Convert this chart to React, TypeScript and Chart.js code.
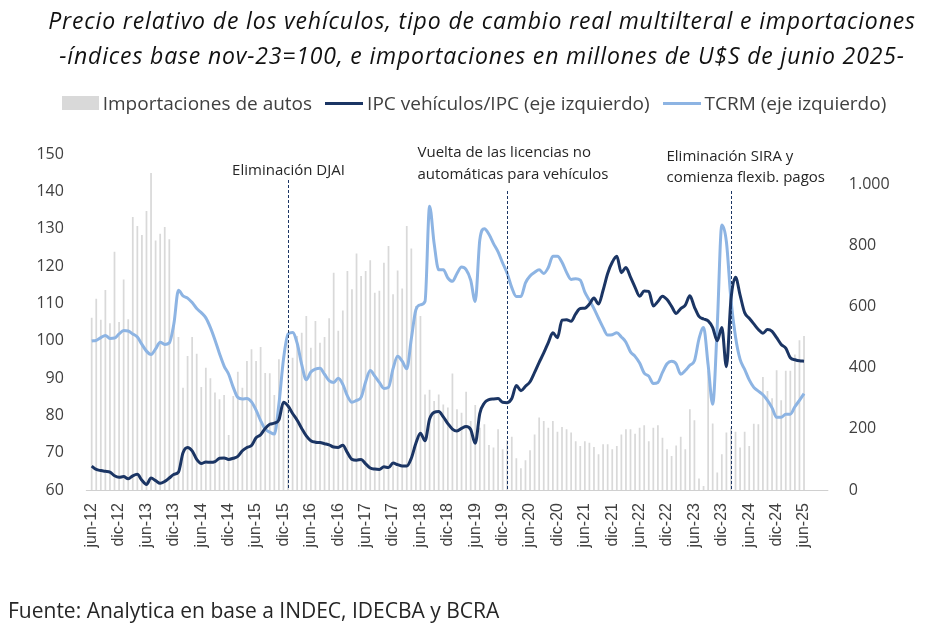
import React, { useEffect, useRef } from 'react';
import { Chart, registerables } from 'chart.js';

Chart.register(...registerables);

// months from jun-12 to jun-25
const MONTHS = ['ene', 'feb', 'mar', 'abr', 'may', 'jun', 'jul', 'ago', 'sep', 'oct', 'nov', 'dic'];
const START_MONTH = 5;
const START_YEAR = 12;

// Importaciones de autos, millones de U$S de junio 2025 (eje derecho)
const IMPORTS = [
  564, 626, 557, 655, 546, 780, 550, 689, 559, 894, 864, 835,
  913, 1038, 817, 839, 861, 821, 546, 501, 335, 439, 501, 446,
  337, 400, 366, 319, 297, 311, 180, 308, 387, 335, 422, 461,
  422, 468, 383, 382, 311, 428, 291, 488, 433, 504, 515, 570,
  466, 553, 482, 501, 562, 711, 521, 588, 717, 657, 774, 701,
  717, 752, 646, 652, 744, 799, 641, 719, 660, 864, 791, 602,
  570, 313, 328, 291, 313, 280, 270, 381, 264, 253, 322, 226,
  278, 204, 215, 147, 139, 199, 133, 163, 174, 104, 71, 97,
  130, 182, 237, 226, 204, 226, 191, 206, 199, 188, 160, 144,
  160, 155, 141, 117, 150, 150, 133, 144, 182, 199, 199, 184,
  204, 212, 160, 204, 212, 171, 133, 111, 146, 174, 133, 264,
  228, 38, 13, 390, 218, 57, 117, 188, 204, 191, 139, 191,
  144, 217, 215, 370, 324, 300, 392, 294, 390, 390, 444, 490,
  504,
];

// IPC vehiculos / IPC, nov-23=100 (eje izquierdo)
const IPC_VEH = [
  66.4, 65.5, 65.2, 65.0, 64.8, 63.8, 63.4, 63.6, 63.0, 63.8, 64.2, 62.6,
  61.5, 63.2, 62.5, 61.8, 62.3, 63.2, 64.2, 64.8, 70.0, 71.4, 70.5, 68.2,
  67.1, 67.5, 67.4, 67.6, 68.5, 68.6, 68.2, 68.5, 69.0, 70.5, 71.4, 71.9,
  74.0, 74.8, 76.5, 77.6, 77.9, 78.8, 83.5, 82.5, 80.5, 78.7, 76.5, 74.5,
  73.2, 72.8, 72.7, 72.4, 72.1, 71.5, 71.4, 72.0, 70.0, 68.2, 68.0, 68.2,
  67.0, 65.9, 65.6, 65.5, 66.2, 66.0, 67.2, 66.8, 66.4, 66.4, 68.5, 72.5,
  75.2, 73.2, 79.0, 80.8, 81.0, 79.6, 77.8, 76.3, 75.8, 76.5, 77.0, 76.2,
  72.5, 80.5, 83.3, 84.2, 84.4, 84.5, 83.5, 83.4, 84.5, 88.0, 86.6, 87.8,
  89.0, 91.5, 94.2, 96.7, 99.5, 102.1, 100.8, 105.5, 105.6, 105.2, 107.2, 108.6,
  108.7, 109.8, 111.4, 109.8, 113.5, 118.0, 121.0, 122.6, 118.2, 119.6, 117.0, 114.3,
  111.9, 113.3, 113.2, 109.3, 110.5, 111.9, 111.0, 109.2, 107.3, 108.6, 109.5, 112.0,
  109.0, 106.5, 105.8, 105.3, 103.5, 100.0, 103.5, 93.0, 111.0, 117.0, 112.2, 107.5,
  106.0, 104.5, 103.0, 102.0, 103.0, 102.5, 100.8, 99.0, 98.0, 95.4, 94.9, 94.6,
  94.5,
];

// TCRM, nov-23=100 (eje izquierdo)
const TCRM = [
  99.9, 100.1, 100.8, 101.4, 100.6, 100.7, 101.8, 102.7, 102.6, 101.8, 101.0, 99.0,
  97.2, 96.3, 97.8, 99.6, 99.0, 99.4, 104.5, 113.5, 112.0, 111.4, 110.2, 108.6,
  107.5, 106.1, 103.5, 100.2, 96.5, 93.2, 91.0, 87.5, 84.8, 84.4, 84.5, 83.6,
  81.4, 78.6, 76.3, 75.5, 75.0, 83.0, 95.0, 101.8, 102.2, 99.3, 93.6, 89.5,
  91.6, 92.4, 92.6, 91.0, 89.3, 88.8, 89.9, 88.3, 85.2, 83.5, 84.0, 84.8,
  89.0, 92.0, 90.5, 88.8, 87.2, 87.5, 92.5, 95.8, 94.5, 92.5, 100.5, 108.3,
  109.6, 110.5, 136.0, 126.0, 119.0, 119.0, 116.8, 115.9, 118.0, 119.7, 119.0, 116.2,
  110.5, 127.0, 130.0, 128.5, 126.0, 123.8, 120.8, 118.0, 114.2, 111.8, 111.8, 115.5,
  117.3, 118.3, 119.0, 118.0, 119.6, 122.6, 122.6, 121.0, 118.3, 116.4, 116.6, 116.2,
  113.0, 110.8, 108.6, 106.0, 103.5, 101.5, 101.6, 102.1, 101.0, 99.6, 97.0, 95.8,
  94.0, 91.3, 90.5, 88.5, 88.8, 91.5, 93.8, 94.5, 93.8, 91.0, 92.0, 93.4,
  94.6, 100.5, 103.5, 93.5, 83.0, 104.0, 131.0, 126.5, 111.0, 101.0, 95.0, 92.3,
  89.5, 87.5, 86.5, 85.5, 84.0, 82.0, 79.5, 79.5, 80.3, 80.3, 82.3, 84.0,
  85.8,
];

const LEFT_TICKS = [60, 70, 80, 90, 100, 110, 120, 130, 140, 150];
const RIGHT_TICKS = [0, 200, 400, 600, 800, 1000];

const EVENTS = [
  { month: 'ene-16', text: ['Eliminación DJAI'] },
  { month: 'ene-20', text: ['Vuelta de las licencias no', 'automáticas para vehículos'] },
  { month: 'feb-24', text: ['Eliminación SIRA y', 'comienza flexib. pagos'] },
];

// where each note sits relative to its dashed line
const EVENT_LAYOUT = [
  { lineTop: 180, dx: 0, align: 'center', ys: [171] },
  { lineTop: 191, dx: -90, align: 'left', ys: [153, 175] },
  { lineTop: 191, dx: -65, align: 'left', ys: [157, 178] },
];

const LABELS = IMPORTS.map((_, i) => {
  const m = START_MONTH + i;
  return `${MONTHS[m % 12]}-${START_YEAR + Math.floor(m / 12)}`;
});

const FONT = '"Open Sans", "Noto Sans", sans-serif';
const NAVY = '#1b3564';
const LIGHT = '#8db4e3';
const BAR = '#d9d9d9';

const fmt = (v: number) => String(v).replace(/\B(?=(\d{3})+(?!\d))/g, '.');

const overlayPlugin = {
  id: 'overlay',
  beforeDatasetsDraw(chart: any) {
    const { ctx, chartArea } = chart;
    ctx.save();
    ctx.strokeStyle = '#d0d0d0';
    ctx.lineWidth = 1;
    ctx.beginPath();
    ctx.moveTo(chartArea.left - 3.5, chartArea.bottom + 0.5);
    ctx.lineTo(chartArea.right + 22, chartArea.bottom + 0.5);
    ctx.stroke();
    ctx.restore();
  },
  afterDatasetsDraw(chart: any) {
    const { ctx, chartArea, scales } = chart;
    ctx.save();
    EVENTS.forEach((ev, k) => {
      const lay = EVENT_LAYOUT[k];
      const px = Math.round(scales.x.getPixelForValue(LABELS.indexOf(ev.month))) + 0.5;
      ctx.strokeStyle = NAVY;
      ctx.lineWidth = 1;
      ctx.setLineDash([3, 2]);
      ctx.beginPath();
      ctx.moveTo(px, lay.lineTop);
      ctx.lineTo(px, chartArea.bottom);
      ctx.stroke();
      ctx.setLineDash([]);
      ctx.fillStyle = '#262626';
      ctx.font = `15px ${FONT}`;
      ctx.textAlign = lay.align;
      ctx.textBaseline = 'middle';
      ev.text.forEach((t, j) => ctx.fillText(t, px + lay.dx, lay.ys[j]));
    });
    ctx.restore();
  },
};

const ImportsChart: React.FC = () => {
  const canvasRef = useRef<HTMLCanvasElement>(null);
  const chartInstance = useRef<Chart | null>(null);

  useEffect(() => {
    if (!canvasRef.current) return;
    if (chartInstance.current) chartInstance.current.destroy();

    chartInstance.current = new Chart(canvasRef.current, {
      type: 'bar',
      data: {
        labels: LABELS,
        datasets: [
          {
            type: 'line',
            label: 'IPC vehículos/IPC (eje izquierdo)',
            data: IPC_VEH,
            yAxisID: 'y',
            borderColor: NAVY,
            backgroundColor: NAVY,
            borderWidth: 3,
            pointRadius: 0,
            cubicInterpolationMode: 'monotone',
            order: 1,
          },
          {
            type: 'line',
            label: 'TCRM (eje izquierdo)',
            data: TCRM,
            yAxisID: 'y',
            borderColor: LIGHT,
            backgroundColor: LIGHT,
            borderWidth: 3,
            pointRadius: 0,
            cubicInterpolationMode: 'monotone',
            order: 2,
          },
          {
            type: 'bar',
            label: 'Importaciones de autos',
            data: IMPORTS,
            yAxisID: 'y1',
            backgroundColor: BAR,
            barPercentage: 0.38,
            categoryPercentage: 1,
            order: 3,
          },
        ],
      } as any,
      options: {
        animation: false,
        responsive: false,
        layout: { padding: { top: 154, left: 0, right: 0, bottom: 0 } },
        plugins: {
          legend: { display: false },
          tooltip: { enabled: false },
        },
        scales: {
          x: {
            offset: true,
            grid: { display: false, drawTicks: false },
            border: { display: false },
            afterFit: (s: any) => { s.height = 140; },
            ticks: {
              autoSkip: false,
              maxRotation: 90,
              minRotation: 90,
              padding: 13,
              color: '#404040',
              font: { family: '"Liberation Sans", Arial, sans-serif', size: 16 },
              callback: (_v: any, i: number) => (i % 6 === 0 ? LABELS[i] : null),
            },
          },
          y: {
            position: 'left',
            min: 60,
            max: 150,
            grid: { display: false, drawTicks: false },
            border: { display: false },
            afterFit: (s: any) => { s.width = 89.4; },
            afterBuildTicks: (s: any) => { s.ticks = LEFT_TICKS.map((value) => ({ value })); },
            ticks: {
              padding: 25.5,
              color: '#404040',
              font: { family: FONT, size: 16 },
            },
          },
          y1: {
            position: 'right',
            min: 0,
            max: 1100,
            grid: { display: false, drawTicks: false },
            border: { display: false },
            afterFit: (s: any) => { s.width = 145.7; },
            afterBuildTicks: (s: any) => { s.ticks = RIGHT_TICKS.map((value) => ({ value })); },
            ticks: {
              padding: 42.5,
              color: '#404040',
              font: { family: FONT, size: 16 },
              callback: (v: any) => fmt(Number(v)),
            },
          },
        },
      },
      plugins: [overlayPlugin],
    } as any);

    return () => {
      if (chartInstance.current) {
        chartInstance.current.destroy();
        chartInstance.current = null;
      }
    };
  }, []);

  return <canvas ref={canvasRef} width={952} height={630} style={{ position: 'absolute', left: 0, top: 0 }} />;
};

const legendText: React.CSSProperties = { fontSize: 19, color: '#404040', whiteSpace: 'nowrap' };

export default function App() {
  return (
    <div style={{ position: 'absolute', left: 0, top: 0, width: 952, height: 630, background: '#fff', fontFamily: FONT, overflow: 'hidden' }}>
      <ImportsChart />
      <div style={{ position: 'absolute', left: 12, top: 4, width: 940, textAlign: 'center', fontStyle: 'italic', fontSize: 23, letterSpacing: 0.85, lineHeight: '32px', color: '#111', whiteSpace: 'nowrap' }}>
        <div>Precio relativo de los vehículos, tipo de cambio real multilteral e importaciones</div>
        <div style={{ marginTop: 3 }}>-índices base nov-23=100, e importaciones en millones de U$S de junio 2025-</div>
      </div>
      <div style={{ position: 'absolute', left: 0, top: 91, width: 948, height: 24, display: 'flex', justifyContent: 'center', alignItems: 'center' }}>
        <span style={{ width: 37, height: 14, background: BAR, display: 'inline-block', marginRight: 4 }} />
        <span style={{ ...legendText, marginRight: 13 }}>Importaciones de autos</span>
        <span style={{ width: 38, height: 3, background: NAVY, display: 'inline-block', marginRight: 4 }} />
        <span style={{ ...legendText, marginRight: 13 }}>IPC vehículos/IPC (eje izquierdo)</span>
        <span style={{ width: 38, height: 3, background: LIGHT, display: 'inline-block', marginRight: 4 }} />
        <span style={legendText}>TCRM (eje izquierdo)</span>
      </div>
      <div style={{ position: 'absolute', left: 8, top: 595, fontSize: 21, lineHeight: '30px', color: '#262626', whiteSpace: 'nowrap' }}>
        Fuente: Analytica en base a INDEC, IDECBA y BCRA
      </div>
    </div>
  );
}
